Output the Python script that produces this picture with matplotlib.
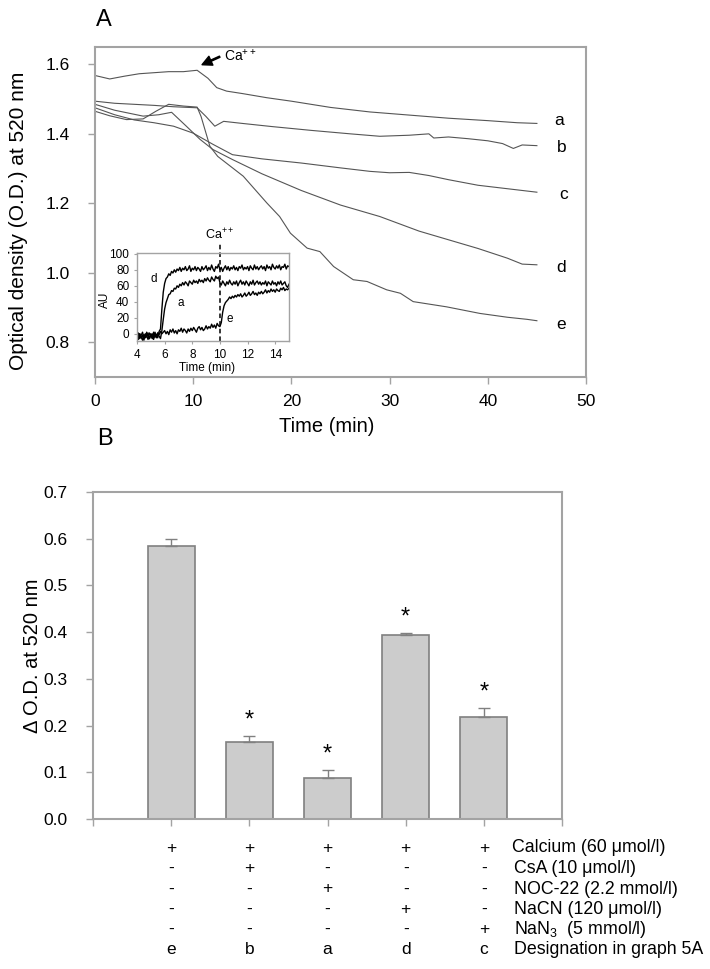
import numpy as np
import matplotlib
matplotlib.use("Agg")
import matplotlib.pyplot as plt
from matplotlib.transforms import blended_transform_factory

plt.rcParams['font.family'] = ['Liberation Sans', 'DejaVu Sans']
plt.rcParams['mathtext.fontset'] = 'custom'
plt.rcParams['mathtext.rm'] = 'Liberation Sans'
plt.rcParams['mathtext.it'] = 'Liberation Sans:italic'
plt.rcParams['mathtext.bf'] = 'Liberation Sans:bold'

# --- panel A: optical density traces (time in min, O.D.) ---
t_a = [0, 1.5, 3, 4.5, 6, 7.5, 9, 10.4, 11.5, 12.4, 13.4, 15, 17.5, 20, 24, 28, 32, 36, 40, 43, 45]
od_a = [1.568, 1.558, 1.566, 1.573, 1.576, 1.579, 1.579, 1.583, 1.560, 1.533, 1.523, 1.516, 1.504,
        1.494, 1.476, 1.463, 1.454, 1.445, 1.438, 1.432, 1.430]

t_b = [0, 2, 4, 6, 8, 10.4, 11.3, 12.2, 13.1, 15, 18, 22, 26, 29, 32, 34, 34.5, 36, 38, 40, 41.5,
       42.6, 43.5, 45]
od_b = [1.494, 1.488, 1.485, 1.482, 1.478, 1.475, 1.450, 1.422, 1.436, 1.430, 1.421, 1.410, 1.400,
        1.393, 1.396, 1.400, 1.388, 1.391, 1.386, 1.380, 1.372, 1.358, 1.368, 1.366]

t_c = [0, 2, 4, 6, 8, 10, 12, 14, 17, 21, 25, 28, 30, 32, 34, 36, 39, 42, 45]
od_c = [1.475, 1.455, 1.440, 1.432, 1.422, 1.402, 1.370, 1.340, 1.328, 1.316, 1.302, 1.292, 1.288,
        1.289, 1.280, 1.268, 1.252, 1.242, 1.232]

t_d = [0, 2, 4.9, 6.5, 7.8, 9.3, 10.7, 12, 14, 17, 21, 25, 29, 33, 36, 39, 42, 43.5, 45]
od_d = [1.485, 1.468, 1.451, 1.455, 1.462, 1.422, 1.384, 1.355, 1.326, 1.285, 1.237, 1.195, 1.162,
        1.120, 1.095, 1.070, 1.042, 1.025, 1.023]

t_e = [0, 1.5, 3.2, 4.9, 6.2, 7.5, 9, 10.4, 10.8, 11.7, 12.5, 15.1, 17.5, 18.8, 19.9, 21.6, 22.9,
       24.3, 26.3, 27.7, 29.7, 31.1, 32.4, 35.8, 39.2, 42, 44, 45]
od_e = [1.465, 1.452, 1.441, 1.443, 1.465, 1.485, 1.480, 1.477, 1.450, 1.364, 1.335, 1.278, 1.201,
        1.162, 1.114, 1.071, 1.061, 1.018, 0.980, 0.975, 0.951, 0.941, 0.917, 0.902, 0.883, 0.872,
        0.866, 0.862]

traces = [(t_a, od_a, 'a'), (t_b, od_b, 'b'), (t_c, od_c, 'c'), (t_d, od_d, 'd'), (t_e, od_e, 'e')]
trace_label_pos = {'a': (46.8, 1.438), 'b': (47.0, 1.362), 'c': (47.3, 1.225),
                   'd': (47.0, 1.014), 'e': (47.0, 0.850)}

# --- inset: AU signal, 4.0 .. 15.0 min every 0.1 min ---
inset_t = np.round(np.arange(4.0, 15.01, 0.1), 1)
au_d = [-4, 1, -6, -2, 2, -5, 0, -3, -7, 1,
        -2, -6, 2, -4, -1, -5, 3, 6, 31, 52,
        63, 69, 71, 75, 73, 78, 76, 80, 77, 81,
        79, 83, 78, 82, 80, 84, 79, 81, 85, 78,
        82, 80, 84, 79, 83, 81, 78, 84, 80, 82,
        85, 79, 83, 80, 86, 81, 78, 84, 82, 87,
        80, 83, 78, 82, 85, 80, 84, 79, 83, 81,
        85, 80, 83, 79, 84, 82, 86, 80, 83, 81,
        84, 79, 85, 82, 80, 86, 81, 84, 80, 83,
        85, 81, 84, 79, 86, 82, 84, 80, 87, 83,
        81, 85, 82, 86, 80, 84, 83, 87, 81, 85,
        84]
au_a = [-2, -6, 0, -4, -8, -1, -5, 2, -3, -6,
        0, -4, -7, -1, -5, 1, -3, -6, 4, 18,
        31, 39, 44, 49, 50, 54, 53, 57, 56, 60,
        58, 62, 60, 64, 61, 65, 63, 60, 66, 64,
        62, 67, 64, 66, 63, 68, 65, 67, 64, 69,
        66, 70, 67, 65, 71, 68, 66, 72, 69, 71,
        64, 61, 66, 63, 60, 65, 62, 67, 63, 61,
        65, 62, 66, 60, 64, 67, 62, 65, 61, 66,
        63, 60, 65, 62, 67, 61, 64, 66, 62, 65,
        61, 64, 62, 66, 60, 65, 63, 61, 66, 62,
        64, 60, 65, 62, 66, 61, 63, 65, 60, 58,
        62]
au_e = [-3, -7, 0, -5, -2, -8, -1, -4, 1, -6,
        -2, 0, -5, 2, -3, 1, -1, 3, 0, 2,
        4, 0, 3, -1, 5, 2, 6, 1, 4, 0,
        5, 3, 7, 2, 6, 4, 1, 6, 3, 7,
        4, 8, 5, 2, 7, 9, 5, 8, 4, 6,
        10, 6, 9, 7, 12, 8, 11, 7, 13, 10,
        9, 14, 27, 35, 39, 41, 43, 46, 44, 47,
        45, 48, 46, 49, 47, 50, 46, 48, 51, 47,
        49, 52, 48, 50, 53, 49, 51, 48, 52, 50,
        53, 50, 52, 55, 51, 54, 52, 56, 53, 55,
        52, 56, 54, 53, 57, 55, 58, 54, 56, 55,
        57]
inset_ca_time = 10
inset_label_pos = {'d': (5.2, 68), 'a': (7.2, 38), 'e': (10.7, 18)}

# --- panel B: bars ---
bar_pos = [1, 2, 3, 4, 5]
delta_od = [0.585, 0.164, 0.088, 0.393, 0.218]
delta_err = [0.015, 0.014, 0.016, 0.005, 0.020]
significant = [False, True, True, True, True]

row_names = ['Calcium (60 μmol/l)', 'CsA (10 μmol/l)', 'NOC-22 (2.2 mmol/l)',
             'NaCN (120 μmol/l)', 'NaN$_3$  (5 mmol/l)', 'Designation in graph 5A']
row_cells = [['+', '+', '+', '+', '+'],
             ['-', '+', '-', '-', '-'],
             ['-', '-', '+', '-', '-'],
             ['-', '-', '-', '+', '-'],
             ['-', '-', '-', '-', '+'],
             ['e', 'b', 'a', 'd', 'c']]

W, H = 710, 969
fig = plt.figure(figsize=(W / 100, H / 100), dpi=100)
spine_col = '#a3a3a3'
line_col = '#555555'


def style_axes(ax, lw=1.5):
    for s in ax.spines.values():
        s.set_color(spine_col)
        s.set_linewidth(lw)


# ---------- panel A ----------
ax1 = fig.add_axes([95 / W, 1 - 377 / H, 491 / W, 330 / H])
for t, od, name in traces:
    ax1.plot(t, od, color=line_col, lw=0.8)
    lx, ly = trace_label_pos[name]
    ax1.text(lx, ly, name, fontsize=12.5, va='center', ha='left')
ax1.set_xlim(0, 50)
ax1.set_ylim(0.7, 1.65)
ax1.set_xticks(np.arange(0, 51, 10))
ax1.set_yticks([0.8, 1.0, 1.2, 1.4, 1.6])
ax1.set_yticklabels(['0.8', '1.0', '1.2', '1.4', '1.6'])
style_axes(ax1)
ax1.tick_params(axis='both', direction='out', length=5, width=1, color=spine_col, labelsize=12.5)
ax1.tick_params(axis='y', pad=13)
ax1.tick_params(axis='x', pad=7)
ax1.set_xlabel('Time (min)', fontsize=14.5)
ax1.xaxis.set_label_coords(0.4725, -0.12)
ax1.set_ylabel('Optical density (O.D.) at 520 nm', fontsize=15)
ax1.yaxis.set_label_coords(-0.136, 0.474)
# Ca++ addition arrow
ax1.annotate('', xy=(10.9, 1.599), xytext=(12.7, 1.622),
             arrowprops=dict(facecolor='black', edgecolor='black', width=0.9,
                             headwidth=7, headlength=7, shrink=0.0))
ax1.text(13.1, 1.624, 'Ca$^{++}$', fontsize=10, va='center', ha='left')

# inset
axi = fig.add_axes([137 / W, 1 - 341 / H, 152 / W, 88 / H])
for au in (au_d, au_a, au_e):
    axi.plot(inset_t, au, color='black', lw=1.0)
axi.plot([inset_ca_time, inset_ca_time], [-9, 114], color='black', lw=1.1,
         ls=(0, (3, 2)), clip_on=False)
axi.text(inset_ca_time, 124, 'Ca$^{++}$', fontsize=9, ha='center', va='center')
for name, (lx, ly) in inset_label_pos.items():
    axi.text(lx, ly, name, fontsize=8.5, ha='center', va='center')
axi.set_xlim(4, 15)
axi.set_ylim(-9, 101)
axi.set_xticks([4, 6, 8, 10, 12, 14])
axi.set_yticks([0, 20, 40, 60, 80, 100])
style_axes(axi, lw=1)
axi.tick_params(axis='both', direction='out', length=2.5, width=0.8, color=spine_col,
                labelsize=8.5)
axi.tick_params(axis='x', pad=3)
axi.tick_params(axis='y', pad=3)
axi.set_xlabel('Time (min)', fontsize=8.5)
axi.xaxis.set_label_coords(0.46, -0.24)
axi.set_ylabel('AU', fontsize=8.5)
axi.yaxis.set_label_coords(-0.17, 0.47)

# ---------- panel B ----------
ax2 = fig.add_axes([93 / W, 1 - 819 / H, 469 / W, 327 / H])
ax2.bar(bar_pos, delta_od, width=0.6, color='#cccccc', edgecolor='#808080', linewidth=1.2,
        yerr=[np.zeros(len(delta_err)), delta_err],
        error_kw=dict(ecolor='#808080', elinewidth=1.0, capsize=4.5, capthick=1.0))
for x, v, e, s in zip(bar_pos, delta_od, delta_err, significant):
    if s:
        ax2.text(x, v + e + 0.033, '*', fontsize=17, ha='center', va='center')
ax2.set_xlim(0, 6)
ax2.set_ylim(0, 0.7)
ax2.set_xticks(range(0, 7))
ax2.set_xticklabels([])
ax2.set_yticks(np.arange(0, 0.71, 0.1))
ax2.set_yticklabels(['%.1f' % v for v in np.arange(0, 0.71, 0.1)])
style_axes(ax2)
ax2.tick_params(axis='both', direction='out', length=5, width=1, color=spine_col, labelsize=12.5)
ax2.tick_params(axis='y', pad=13)
ax2.set_ylabel('Δ O.D. at 520 nm', fontsize=14.5)
ax2.yaxis.set_label_coords(-0.109, 0.5)

# table under the bars
tr = blended_transform_factory(ax2.transData, fig.transFigure)
row_y = [848, 868.5, 889, 909.5, 929.5, 950]
for i, (cells, name) in enumerate(zip(row_cells, row_names)):
    yy = 1 - row_y[i] / H
    for x, c in zip(bar_pos, cells):
        ax2.text(x, yy, c, transform=tr, fontsize=12.5, ha='center', va='center')
    xl = 512.3 if i == 0 else 514.3
    fig.text(xl / W, yy, name, fontsize=12.8, ha='left', va='center')

fig.text(104 / W, 1 - 20 / H, 'A', fontsize=17, ha='center', va='center')
fig.text(105 / W, 1 - 439 / H, 'B', fontsize=17, ha='center', va='center')

fig.savefig('out.png', dpi=100)
